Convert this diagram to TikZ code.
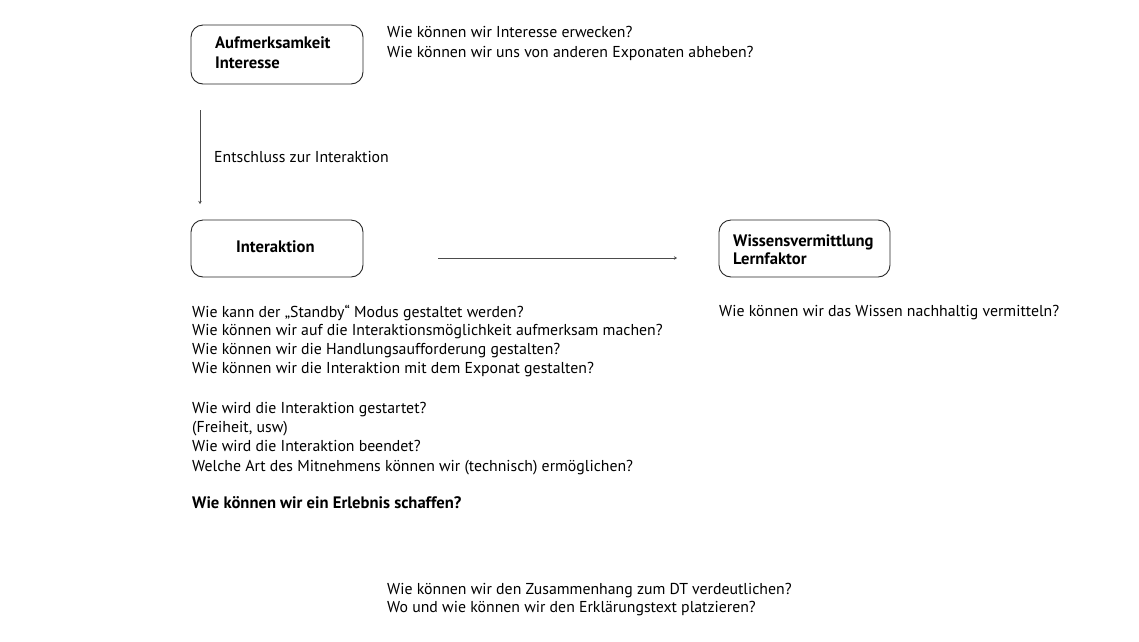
\documentclass[tikz,border=0pt]{standalone}
\usepackage{fontspec}
\setmainfont{PT Sans}
\usetikzlibrary{arrows.meta}
\begin{document}
\begin{tikzpicture}[x=1pt,y=-1pt,
  box/.style={draw=black!85,line width=0.9pt,rounded corners=12pt,inner sep=0pt},
  txt/.style={anchor=base west,inner sep=0pt,font=\fontsize{15.8}{18}\selectfont},
  btxt/.style={txt,font=\fontsize{16.6}{18}\selectfont\bfseries},
  arr/.style={draw=black!70,line width=0.8pt,-{Stealth[length=3pt,width=3.5pt]}}]
\useasboundingbox (0,0) rectangle (1139,641);
% boxes
\node[box,minimum width=172pt,minimum height=59pt] (b1) at (277,54.5) {};
\node[box,minimum width=172pt,minimum height=57pt] (b2) at (277,248.5) {};
\node[box,minimum width=171pt,minimum height=57pt] (b3) at (804.5,248.5) {};
% box texts
\node[btxt] (b1a) at (215,48) {Aufmerksamkeit};
\node[btxt] (b1b) at (215,68) {Interesse};
\node[btxt] (b2a) at (236,252) {Interaktion};
\node[btxt] (b3a) at (733,246) {Wissensvermittlung};
\node[btxt] (b3b) at (733,264) {Lernfaktor};
% connectors
\coordinate (v1) at (200,110);
\coordinate (v2) at (200,204);
\coordinate (h1) at (438,258);
\coordinate (h2) at (677,258);
\draw[arr] (v1) -- (v2);
\draw[arr] (h1) -- (h2);
\node[txt] (lab) at (214,162) {Entschluss zur Interaktion};
% top questions
\node[txt] (t1) at (387,37) {Wie können wir Interesse erwecken?};
\node[txt] (t2) at (387,57) {Wie können wir uns von anderen Exponaten abheben?};
% interaction questions
\node[txt] (q1) at (192,317) {Wie kann der „Standby“ Modus gestaltet werden?};
\node[txt] (q2) at (192,335) {Wie können wir auf die Interaktionsmöglichkeit aufmerksam machen?};
\node[txt] (q3) at (192,354) {Wie können wir die Handlungsaufforderung gestalten?};
\node[txt] (q4) at (192,373) {Wie können wir die Interaktion mit dem Exponat gestalten?};
\node[txt] (q5) at (192,413) {Wie wird die Interaktion gestartet?};
\node[txt] (q6) at (192,432) {(Freiheit, usw)};
\node[txt] (q7) at (192,451) {Wie wird die Interaktion beendet?};
\node[txt] (q8) at (192,471) {Welche Art des Mitnehmens können wir (technisch) ermöglichen?};
\node[btxt] (q9) at (192,508) {Wie können wir ein Erlebnis schaffen?};
% knowledge question
\node[txt] (w1) at (719,316) {Wie können wir das Wissen nachhaltig vermitteln?};
% bottom questions
\node[txt] (u1) at (387,594) {Wie können wir den Zusammenhang zum DT verdeutlichen?};
\node[txt] (u2) at (387,612) {Wo und wie können wir den Erklärungstext platzieren?};
\end{tikzpicture}
\end{document}
